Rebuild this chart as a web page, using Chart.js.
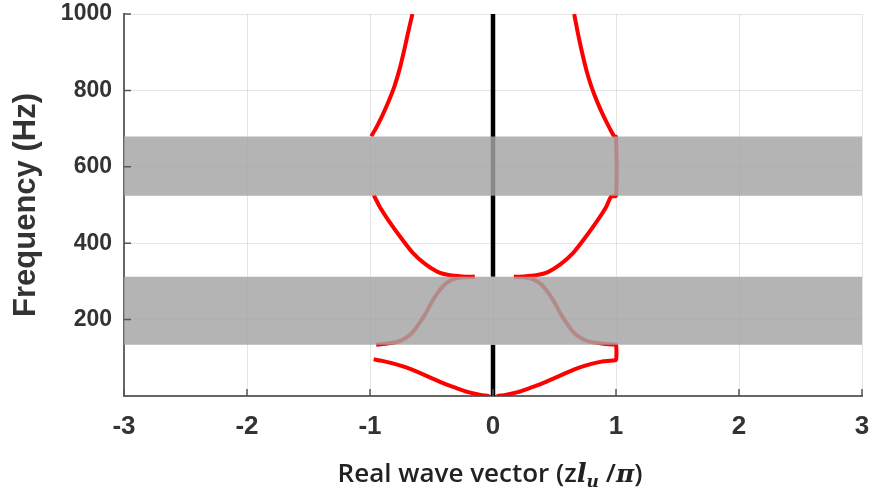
<!DOCTYPE html>
<html>
<head>
<meta charset="utf-8">
<script src="https://cdn.jsdelivr.net/npm/chart.js@4.4.1/dist/chart.umd.min.js"></script>
<style>
  html, body { margin: 0; padding: 0; background: #fff; }
  #wrap { width: 869px; height: 492px; }
</style>
</head>
<body>
<div id="wrap"><canvas id="myChart" width="869" height="492"></canvas></div>
<script>
// axes
const xTickValues = [-3, -2, -1, 0, 1, 2, 3];
const yTickValues = [200, 400, 600, 800, 1000];

// band gaps (Hz)
const bandLow = [134, 312];
const bandHigh = [524, 679];

// lowest branch, left side
const lowLeftX = [-0.97, -0.9, -0.8, -0.7, -0.6, -0.5, -0.4, -0.3, -0.2, -0.1, -0.03];
const lowLeftY = [96, 92, 84, 74, 61, 47, 33, 21, 10, 3, 0];

// lowest branch right + step at x=1 + curve inside first gap
const lowRightX = [0.03, 0.1, 0.2, 0.3, 0.4, 0.5, 0.6, 0.7, 0.8, 0.9, 0.97, 1.0, 1.0, 0.97, 0.9, 0.8, 0.75, 0.7, 0.65, 0.6, 0.55, 0.5, 0.45, 0.4, 0.35, 0.3, 0.25, 0.17];
const lowRightY = [0, 3, 10, 21, 33, 47, 61, 74, 84, 91, 93, 94, 134, 135, 137, 141, 146, 155, 168, 190, 215, 245, 270, 290, 302, 308, 311, 312];

// curve inside first gap, left side
const gapLeftX = [-0.95, -0.9, -0.8, -0.75, -0.7, -0.65, -0.6, -0.55, -0.5, -0.45, -0.4, -0.35, -0.3, -0.25, -0.15];
const gapLeftY = [134, 136, 140, 145, 154, 168, 190, 215, 245, 270, 290, 302, 308, 311, 312];

// second branch, left side
const midLeftX = [-0.15, -0.25, -0.35, -0.45, -0.55, -0.65, -0.75, -0.85, -0.92, -0.97];
const midLeftY = [312, 313, 316, 325, 345, 374, 415, 460, 495, 526];

// second branch right + step at x=1 + third branch right
const upRightX = [0.17, 0.25, 0.35, 0.45, 0.55, 0.65, 0.75, 0.85, 0.92, 0.96, 1.0, 1.0, 0.985, 0.95, 0.9, 0.85, 0.8, 0.76, 0.72, 0.69, 0.66];
const upRightY = [312, 313, 316, 325, 345, 374, 415, 460, 495, 522, 524, 679, 680, 700, 732, 768, 810, 852, 905, 950, 1000];

// third branch, left side
const topLeftX = [-0.99, -0.95, -0.9, -0.85, -0.8, -0.76, -0.72, -0.69, -0.655];
const topLeftY = [680, 702, 734, 770, 812, 855, 908, 952, 1000];

// black line at x = 0
const zeroX = [0, 0, null, 0, 0];
const zeroY = [0, 134, null, 312, 1000];

function pts(xs, ys) {
    return xs.map((x, i) => (x === null ? { x: 0, y: null } : { x: x, y: ys[i] }));
}

function redLine(xs, ys) {
    return {
        data: pts(xs, ys),
        borderColor: '#ff0000',
        borderWidth: 4,
        tension: 0.2,
        order: 2
    };
}

function band(b) {
    return {
        data: [{ x: -3, y: b[1] }, { x: 3, y: b[1] }],
        borderWidth: 0,
        borderColor: 'rgba(0,0,0,0)',
        backgroundColor: 'rgba(165,165,165,0.83)',
        fill: { value: b[0] },
        order: 0
    };
}

// ticks tournés vers l'intérieur, comme matlab
const innerTicks = {
    id: 'innerTicks',
    afterDatasetsDraw(chart) {
        const ctx = chart.ctx;
        const xs = chart.scales.x, ys = chart.scales.y;
        const a = chart.chartArea;
        ctx.save();
        ctx.strokeStyle = '#555';
        ctx.lineWidth = 1.5;
        ctx.beginPath();
        xTickValues.forEach(v => {
            const px = xs.getPixelForValue(v);
            ctx.moveTo(px, a.bottom);
            ctx.lineTo(px, a.bottom - 7);
        });
        yTickValues.forEach(v => {
            const py = ys.getPixelForValue(v);
            ctx.moveTo(a.left, py);
            ctx.lineTo(a.left + 7, py);
        });
        ctx.stroke();
        ctx.restore();
    }
};

// titre de l'axe x avec une partie mathematique
const xTitle = {
    id: 'xTitle',
    afterDraw(chart) {
        const ctx = chart.ctx;
        const parts = [
            { t: 'Real wave vector (z', f: '600 26px "Open Sans"', dy: 0 },
            { t: 'l', f: 'italic bold 26px "DejaVu Serif"', dy: 0 },
            { t: 'u', f: 'italic bold 17px "DejaVu Serif"', dy: 5 },
            { t: ' /', f: '600 26px "Open Sans"', dy: 0 },
            { t: '\u03C0', f: 'italic bold 25px "DejaVu Serif"', dy: 0 },
            { t: ')', f: '600 26px "Open Sans"', dy: 0 }
        ];
        ctx.save();
        ctx.fillStyle = '#222';
        ctx.textBaseline = 'alphabetic';
        let total = 0;
        parts.forEach(p => { ctx.font = p.f; p.w = ctx.measureText(p.t).width; total += p.w; });
        let x = 490 - total / 2;
        parts.forEach(p => {
            ctx.font = p.f;
            ctx.fillText(p.t, x, 482 + p.dy);
            x += p.w;
        });
        ctx.restore();
    }
};

const ctx = document.getElementById('myChart').getContext('2d');
const myChart = new Chart(ctx, {
    type: 'scatter',
    data: {
        datasets: [
            band(bandLow),
            band(bandHigh),
            {
                data: pts(zeroX, zeroY),
                borderColor: '#000',
                borderWidth: 4.5,
                spanGaps: false,
                order: 1
            },
            redLine(lowLeftX, lowLeftY),
            redLine(lowRightX, lowRightY),
            redLine(gapLeftX, gapLeftY),
            redLine(midLeftX, midLeftY),
            redLine(upRightX, upRightY),
            redLine(topLeftX, topLeftY)
        ]
    },
    options: {
        responsive: false,
        animation: false,
        showLine: true,
        elements: { point: { radius: 0, hoverRadius: 0 } },
        layout: { padding: { top: 14, right: 7, left: 0, bottom: 0 } },
        plugins: { legend: { display: false }, tooltip: { enabled: false } },
        scales: {
            x: {
                type: 'linear',
                min: -3,
                max: 3,
                afterBuildTicks: s => { s.ticks = xTickValues.map(v => ({ value: v })); },
                afterFit: s => { s.height = 96; s.paddingLeft = 0; s.paddingRight = 0; },
                grid: { color: 'rgba(0,0,0,0.1)', lineWidth: 1, drawTicks: false },
                border: { color: '#666', width: 2 },
                ticks: {
                    padding: 15,
                    color: '#333',
                    callback: v => String(v),
                    font: { family: '"Liberation Sans", Arial', size: 26, weight: 'bold' }
                }
            },
            y: {
                type: 'linear',
                min: 0,
                max: 1000,
                afterBuildTicks: s => { s.ticks = yTickValues.map(v => ({ value: v })); },
                afterFit: s => { s.width = 124; s.paddingTop = 0; s.paddingBottom = 0; },
                grid: { color: 'rgba(0,0,0,0.1)', lineWidth: 1, drawTicks: false },
                border: { color: '#666', width: 2 },
                title: {
                    display: true,
                    text: 'Frequency (Hz)',
                    color: '#333',
                    padding: { top: 8, bottom: 0 },
                    font: { family: '"Liberation Sans", Arial', size: 31, weight: 'bold' }
                },
                ticks: {
                    padding: 12,
                    color: '#333',
                    callback: v => String(v),
                    font: { family: '"Liberation Sans", Arial', size: 23, weight: 'bold' }
                }
            }
        }
    },
    plugins: [innerTicks, xTitle]
});
</script>
</body>
</html>
